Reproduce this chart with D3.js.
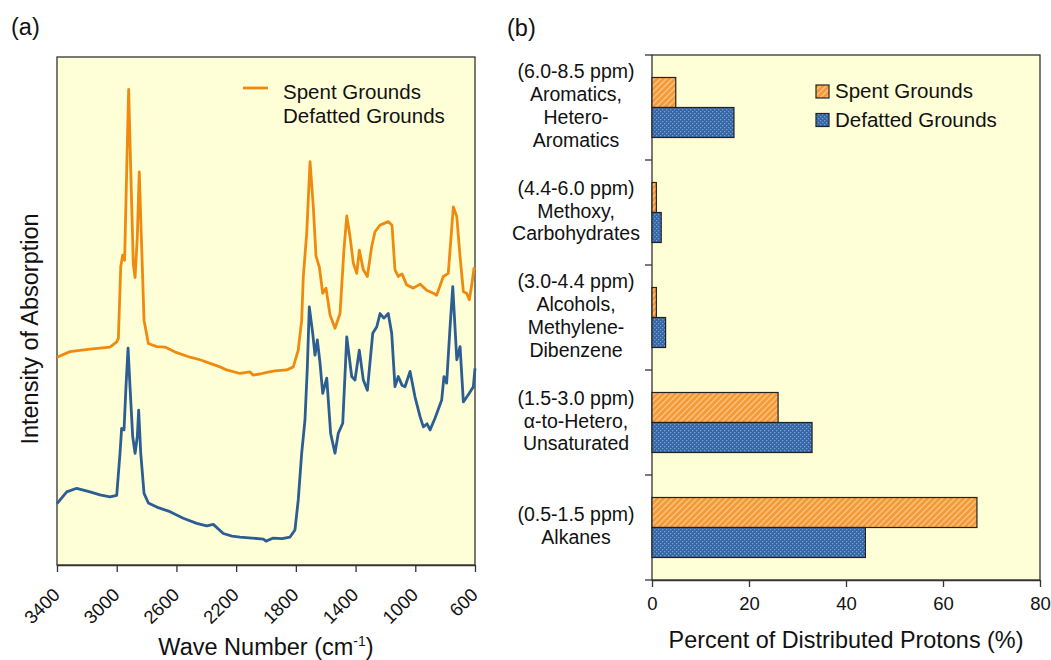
<!DOCTYPE html>
<html>
<head>
<meta charset="utf-8">
<script src="https://cdn.jsdelivr.net/npm/d3@7"></script>
<style>
  body { margin: 0; background: #fff; }
  text { font-family: Arial, "Liberation Sans", sans-serif; fill: #111; }
</style>
</head>
<body>
<svg id="chart" width="1051" height="660"></svg>
<script>
// (a) FTIR spectra (wave number, relative intensity 0-100)
const spentWave = [3400,3313,3179,3045,3000,2989,2973,2960,2947,2933,2920,2906,2889,2877,2862,2849,2835,2817,2788,2732,2677,2598,2509,2442,2375,2308,2263,2174,2107,2087,2040,1995,1940,1861,1817,1784,1761,1750,1727,1705,1683,1665,1643,1620,1598,1571,1538,1504,1478,1459,1437,1415,1392,1375,1348,1321,1292,1270,1236,1181,1156,1136,1114,1089,1057,1013,968,924,879,857,812,779,745,722,700,678,656,638,622,607,600];
const spentIntensity = [40.9,42.0,42.5,42.9,43.9,44.6,58.7,61.0,60.0,77.8,93.6,77.8,59.4,56.6,64.6,77.4,64.6,48.2,43.6,43.0,42.9,41.8,40.9,40.4,39.7,39.0,38.4,37.7,38.0,37.4,37.6,37.9,38.2,38.4,39.0,42.3,48.2,56.8,65.4,79.4,70.5,60.8,58.7,53.5,54.5,49.2,46.6,49.5,62.0,68.7,64.6,59.4,57.4,62.0,58.1,56.8,62.7,65.6,66.9,67.6,66.9,58.1,56.8,57.3,55.1,54.5,55.3,54.1,53.5,53.1,56.8,57.4,70.5,68.6,60.7,53.8,53.5,52.2,55.1,58.4,58.1];
const defattedWave = [3400,3335,3268,3179,3112,3045,3000,2978,2967,2951,2938,2924,2911,2893,2877,2862,2853,2839,2817,2788,2732,2643,2554,2464,2397,2353,2286,2228,2174,2094,2018,2000,1951,1893,1839,1806,1784,1761,1739,1723,1710,1687,1672,1656,1638,1620,1593,1567,1538,1516,1486,1459,1426,1404,1375,1348,1321,1285,1258,1236,1210,1181,1158,1136,1114,1089,1069,1035,1002,968,946,921,901,868,823,808,790,767,749,722,700,678,645,611,600];
const defattedIntensity = [12.1,14.4,15.1,14.4,13.8,13.4,13.7,22.0,26.9,26.6,35.1,42.7,35.1,25.3,22.0,25.3,30.5,22.0,14.1,12.2,11.4,10.5,9.2,8.2,7.7,8.0,6.2,5.7,5.5,5.3,5.1,4.7,5.3,5.2,5.5,6.9,12.8,22.0,28.5,39.0,50.8,45.6,41.3,44.3,39.7,33.8,36.8,25.9,22.0,25.9,27.9,44.9,37.1,36.4,42.3,36.4,34.4,45.6,46.9,49.5,48.6,49.5,45.6,35.1,37.1,35.4,35.1,38.1,33.1,29.2,27.2,27.8,26.6,28.9,32.5,37.1,35.8,46.9,54.8,40.4,43.0,32.1,33.5,35.1,38.7];
const waveTicks = [3400,3000,2600,2200,1800,1400,1000,600];

// (b) proton distribution
const categories = [
  "(6.0-8.5 ppm)|Aromatics,|Hetero-|Aromatics",
  "(4.4-6.0 ppm)|Methoxy,|Carbohydrates",
  "(3.0-4.4 ppm)|Alcohols,|Methylene-|Dibenzene",
  "(1.5-3.0 ppm)|α-to-Hetero,|Unsaturated",
  "(0.5-1.5 ppm)|Alkanes"
];
const seriesNames = ["Spent Grounds", "Defatted Grounds"];
const spentPct = [4.9, 0.9, 0.9, 26, 67];
const defattedPct = [16.9, 1.9, 2.8, 33, 44];
const pctTicks = [0, 20, 40, 60, 80];

const orange = "#f08a0e", blue = "#2c5d93", bg = "#ffffd7", frame = "#333";

const svg = d3.select("#chart");

// fill patterns for the bars
const defs = svg.append("defs");
const hatch = defs.append("pattern").attr("id", "hatch")
  .attr("width", 6).attr("height", 6).attr("patternUnits", "userSpaceOnUse");
hatch.append("rect").attr("width", 6).attr("height", 6).attr("fill", "#f39a3a");
hatch.append("path").attr("d", "M-1,7 L7,-1 M-1,1 L1,-1 M5,7 L7,5")
  .attr("stroke", "#fcc27e").attr("stroke-width", 1.4);
const dots = defs.append("pattern").attr("id", "dots")
  .attr("width", 4).attr("height", 4).attr("patternUnits", "userSpaceOnUse");
dots.append("rect").attr("width", 4).attr("height", 4).attr("fill", "#3466a6");
dots.append("rect").attr("x", 0).attr("y", 0).attr("width", 1.3).attr("height", 1.3).attr("fill", "#7a9fcf");
dots.append("rect").attr("x", 2).attr("y", 2).attr("width", 1.3).attr("height", 1.3).attr("fill", "#7a9fcf");

// ---------- panel (a) ----------
const a = { left: 57, right: 475, top: 57, bottom: 565 };
const xWave = d3.scaleLinear().domain([3400, 600]).range([a.left, a.right]);
const yInt = d3.scaleLinear().domain([0, 100]).range([a.bottom, a.top]);

svg.append("rect").attr("x", a.left).attr("y", a.top)
  .attr("width", a.right - a.left).attr("height", a.bottom - a.top)
  .attr("fill", bg).attr("stroke", frame).attr("stroke-width", 1.3);

const line = d3.line().x(d => xWave(d[0])).y(d => yInt(d[1]));
const spentPts = spentWave.map((w, i) => [w, spentIntensity[i]]);
const defPts = defattedWave.map((w, i) => [w, defattedIntensity[i]]);

svg.append("path").datum(defPts).attr("d", line)
  .attr("fill", "none").attr("stroke", blue).attr("stroke-width", 2.8).attr("stroke-linejoin", "round");
svg.append("path").datum(spentPts).attr("d", line)
  .attr("fill", "none").attr("stroke", orange).attr("stroke-width", 2.8).attr("stroke-linejoin", "round");

const xAxisA = svg.append("g").attr("transform", `translate(0,${a.bottom})`)
  .call(d3.axisBottom(xWave).tickValues(waveTicks).tickSize(7).tickSizeOuter(0).tickFormat(""));
xAxisA.select(".domain").attr("stroke", frame).attr("stroke-width", 1.3);
xAxisA.selectAll(".tick line").attr("stroke", frame).attr("stroke-width", 1.3);

svg.append("g").selectAll("text").data(waveTicks).join("text")
  .attr("transform", d => `translate(${xWave(d) + 4},596) rotate(-45)`)
  .attr("text-anchor", "end").attr("font-size", 18.5).text(d => d);

svg.append("text").attr("x", (a.left + a.right) / 2).attr("y", 655)
  .attr("text-anchor", "middle").attr("font-size", 23.5)
  .call(t => {
    t.append("tspan").text("Wave Number (cm");
    t.append("tspan").attr("font-size", 14).attr("dy", -9).text("-1");
    t.append("tspan").attr("dy", 9).text(")");
  });

svg.append("text").attr("transform", "translate(38,329) rotate(-90)")
  .attr("text-anchor", "middle").attr("font-size", 23.5).text("Intensity of Absorption");

svg.append("line").attr("x1", 243).attr("x2", 268).attr("y1", 88).attr("y2", 88)
  .attr("stroke", orange).attr("stroke-width", 2.8);
svg.append("text").attr("x", 283).attr("y", 99).attr("font-size", 20.5).text(seriesNames[0]);
svg.append("text").attr("x", 283).attr("y", 123).attr("font-size", 20.5).text(seriesNames[1]);

svg.append("text").attr("x", 11).attr("y", 35).attr("font-size", 23.5).text("(a)");

// ---------- panel (b) ----------
const b = { left: 652, right: 1040, top: 55, bottom: 580 };
const xPct = d3.scaleLinear().domain([0, 80]).range([b.left, b.right]);
const yCat = d3.scaleBand().domain(categories).range([b.top, b.bottom]);
const ySer = d3.scaleBand().domain(seriesNames).range([0, yCat.bandwidth()]).paddingOuter(0.75);

svg.append("rect").attr("x", b.left).attr("y", b.top)
  .attr("width", b.right - b.left).attr("height", b.bottom - b.top)
  .attr("fill", bg).attr("stroke", frame).attr("stroke-width", 1.3);

const rows = categories.map((c, i) => ({ cat: c, values: [spentPct[i], defattedPct[i]] }));
const fills = ["url(#hatch)", "url(#dots)"];

svg.append("g").selectAll("g").data(rows).join("g")
  .attr("transform", d => `translate(0,${yCat(d.cat)})`)
  .selectAll("rect").data(d => d.values.map((v, j) => ({ s: seriesNames[j], v, j })))
  .join("rect")
  .attr("x", xPct(0)).attr("y", d => ySer(d.s))
  .attr("width", d => xPct(d.v) - xPct(0)).attr("height", ySer.bandwidth())
  .attr("fill", d => fills[d.j]).attr("stroke", "#222").attr("stroke-width", 1.2);

const xAxisB = svg.append("g").attr("transform", `translate(0,${b.bottom})`)
  .call(d3.axisBottom(xPct).tickValues(pctTicks).tickSize(7).tickSizeOuter(0).tickPadding(10));
xAxisB.select(".domain").attr("stroke", frame).attr("stroke-width", 1.3);
xAxisB.selectAll(".tick line").attr("stroke", frame).attr("stroke-width", 1.3);
xAxisB.selectAll(".tick text").attr("font-size", 18.5).attr("font-family", "Arial, 'Liberation Sans', sans-serif").attr("fill", "#111");

// category boundary ticks on the left axis
const bounds = categories.map(c => yCat(c)).concat([b.bottom]);
svg.append("g").selectAll("line").data(bounds).join("line")
  .attr("x1", b.left - 7).attr("x2", b.left).attr("y1", d => d).attr("y2", d => d)
  .attr("stroke", frame).attr("stroke-width", 1.3);

const lineGap = 22.8;
svg.append("g").selectAll("text").data(categories).join("text")
  .attr("text-anchor", "middle").attr("font-size", 19.5)
  .each(function (c) {
    const parts = c.split("|");
    const mid = yCat(c) + yCat.bandwidth() / 2 - 2 + 7;
    d3.select(this).selectAll("tspan").data(parts).join("tspan")
      .attr("x", 576)
      .attr("y", (p, k) => mid + (k - (parts.length - 1) / 2) * lineGap)
      .text(p => p);
  });

svg.append("text").attr("x", (b.left + b.right) / 2).attr("y", 648)
  .attr("text-anchor", "middle").attr("font-size", 23.4).text("Percent of Distributed Protons (%)");

const legB = svg.append("g");
seriesNames.forEach((s, i) => {
  legB.append("rect").attr("x", 816).attr("y", 85 + i * 28.5).attr("width", 13).attr("height", 13)
    .attr("fill", fills[i]).attr("stroke", "#222").attr("stroke-width", 1.2);
  legB.append("text").attr("x", 835).attr("y", 98 + i * 29).attr("font-size", 20.5).text(s);
});

svg.append("text").attr("x", 507).attr("y", 36).attr("font-size", 23.5).text("(b)");
</script>
</body>
</html>
